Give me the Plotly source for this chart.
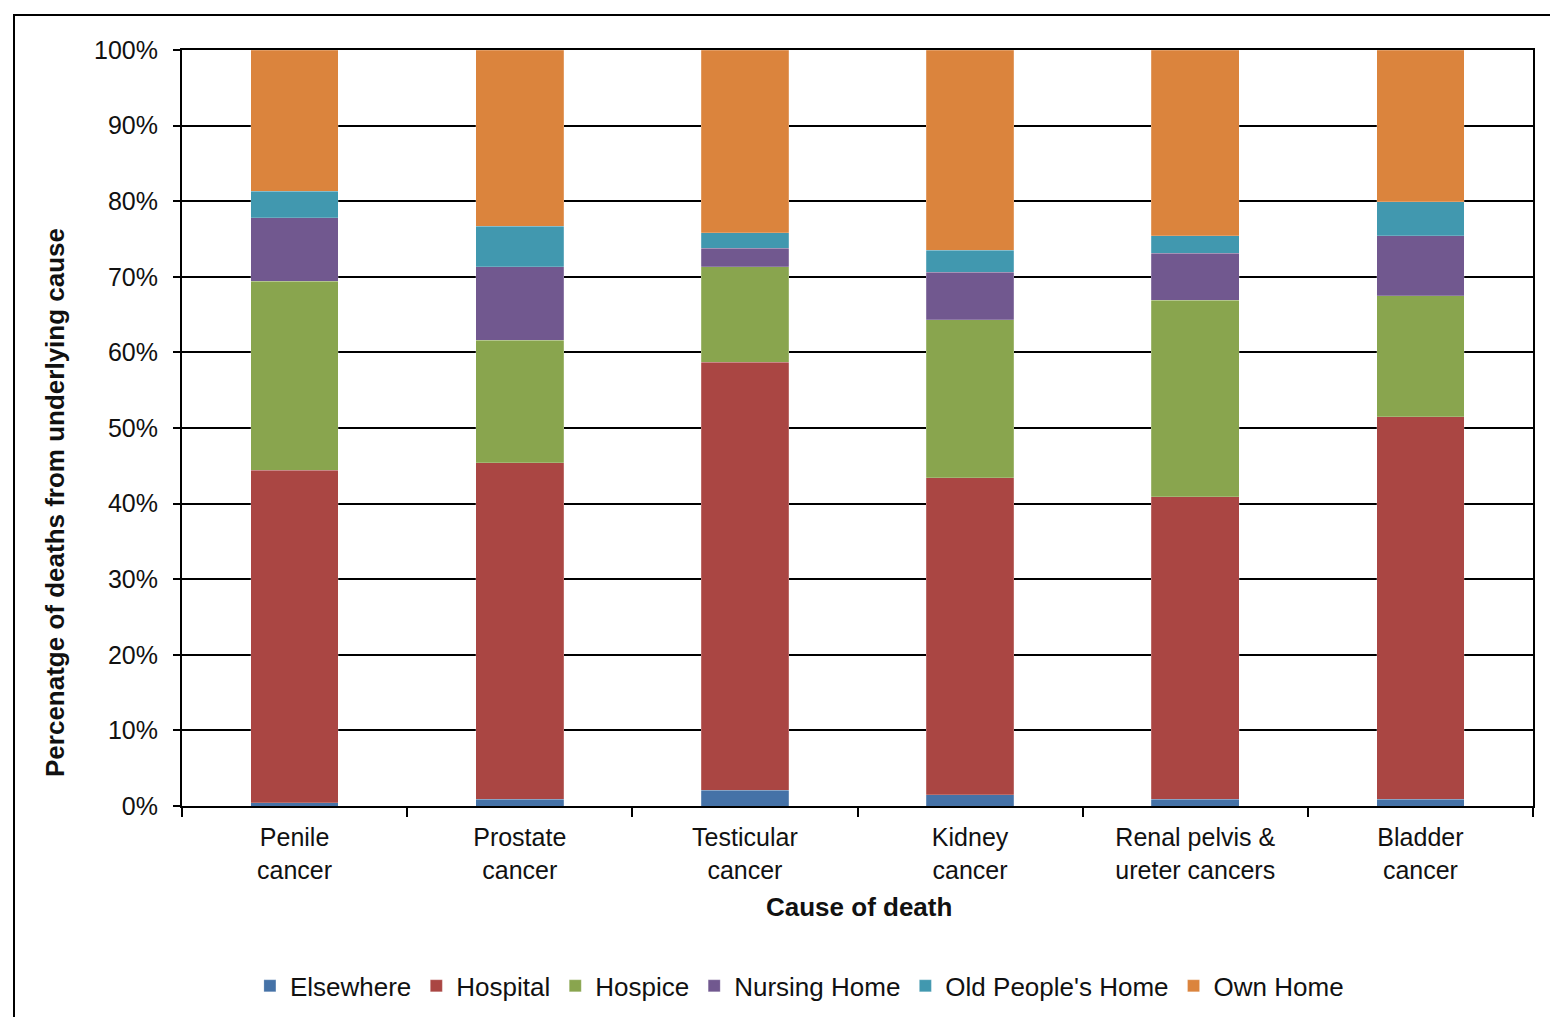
import plotly.graph_objects as go

categories = ["Penile<br>cancer", "Prostate<br>cancer", "Testicular<br>cancer",
              "Kidney<br>cancer", "Renal pelvis &amp;<br>ureter cancers", "Bladder<br>cancer"]
elsewhere = [0.4, 0.9, 2.1, 1.5, 0.9, 0.9]
hospital = [44.0, 44.5, 56.6, 41.9, 40.0, 50.6]
hospice = [25.0, 16.2, 12.6, 20.9, 26.0, 16.0]
nursing_home = [8.4, 9.7, 2.5, 6.3, 6.2, 7.9]
old_peoples_home = [3.5, 5.4, 2.0, 2.9, 2.3, 4.5]
own_home = [18.7, 23.3, 24.2, 26.5, 24.6, 20.1]

series = [
    ("Elsewhere", elsewhere, "#4572A7"),
    ("Hospital", hospital, "#AA4643"),
    ("Hospice", hospice, "#89A54E"),
    ("Nursing Home", nursing_home, "#71588F"),
    ("Old People's Home", old_peoples_home, "#4198AF"),
    ("Own Home", own_home, "#DB843D"),
]

FONT = "Liberation Sans, Arial, sans-serif"

fig = go.Figure()
for name, vals, col in series:
    fig.add_trace(go.Bar(x=categories, y=vals, name=name,
                         marker=dict(color=col, line=dict(width=0.5, color="rgba(255,255,255,0.4)"))))

fig.update_layout(
    barmode="stack",
    bargap=0.61,
    width=1558, height=1017,
    margin=dict(l=174, r=33, t=42, b=219),
    paper_bgcolor="white", plot_bgcolor="white",
    font=dict(family=FONT, size=25, color="#111"),
    showlegend=True,
    legend=dict(orientation="h", x=0.457, xanchor="center", y=-0.238, yanchor="middle",
                font=dict(size=26), traceorder="normal", tracegroupgap=0),
    xaxis=dict(showline=True, linecolor="black", linewidth=2, mirror=True,
               ticks="outside", tickson="boundaries", ticklen=9, tickwidth=2, tickcolor="black",
               tickfont=dict(size=25), ticklabelstandoff=8),
    yaxis=dict(range=[0, 100], dtick=10, ticksuffix="%", showgrid=True, gridcolor="black", gridwidth=2,
               showline=True, linecolor="black", linewidth=2, mirror=True,
               ticks="outside", ticklen=7, tickwidth=2, tickcolor="black",
               tickfont=dict(size=25), zeroline=False, ticklabelstandoff=10),
    annotations=[
        dict(text="<b>Cause of death</b>", xref="paper", yref="paper", x=0.501, y=(806 - 907) / 756,
             xanchor="center", yanchor="middle", showarrow=False, font=dict(size=26)),
        dict(text="<b>Percenatge of deaths from underlying cause</b>", xref="paper", yref="paper",
             x=(55 - 182) / 1351, y=(806 - 503) / 756, textangle=-90,
             xanchor="center", yanchor="middle", showarrow=False, font=dict(size=26)),
    ],
    shapes=[
        dict(type="rect", xref="paper", yref="paper",
             x0=(14 - 182) / 1351, x1=(1600 - 182) / 1351,
             y0=(806 - 1100) / 756, y1=(806 - 15) / 756,
             line=dict(color="black", width=2), fillcolor="rgba(0,0,0,0)", layer="below"),
    ],
)

fig.write_html("out.html")
